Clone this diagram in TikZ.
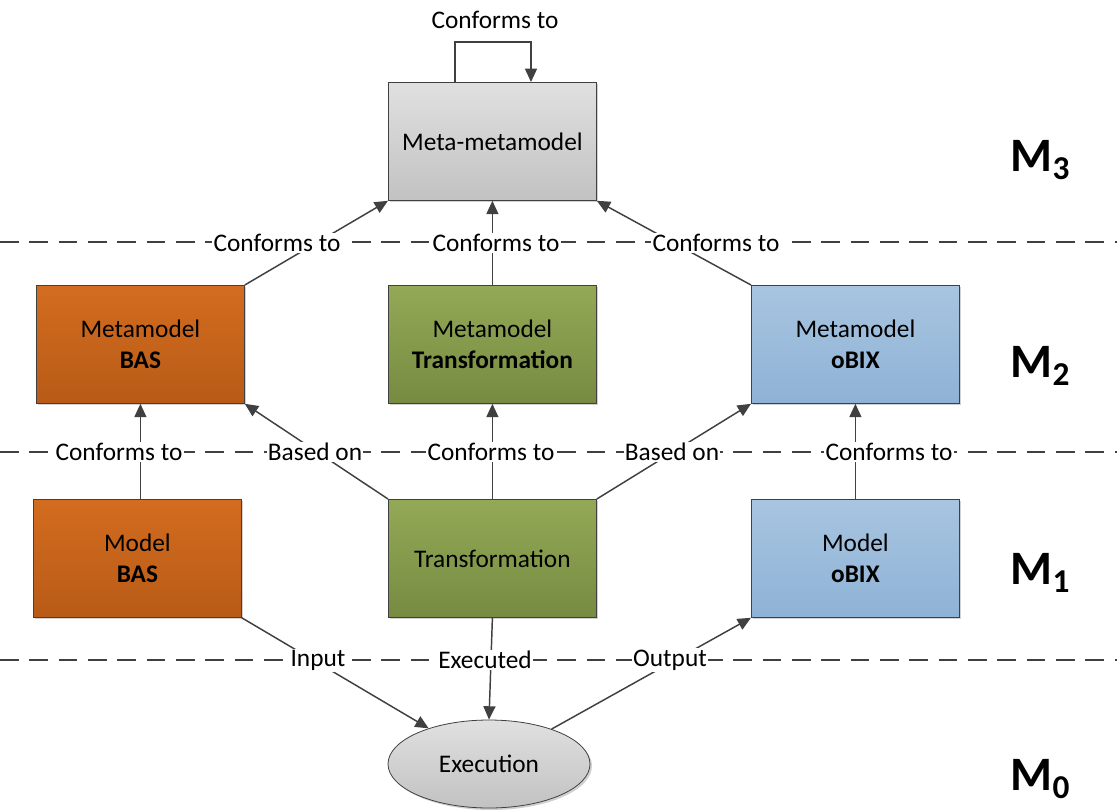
\documentclass[tikz,border=0pt]{standalone}
\usepackage{fontspec}
\setmainfont{Carlito}
\usetikzlibrary{arrows.meta,shadows,shapes.geometric}

\definecolor{edge}{HTML}{404040}
\definecolor{orgtop}{HTML}{D36C1F}
\definecolor{orgbot}{HTML}{B85B17}
\definecolor{grntop}{HTML}{93A957}
\definecolor{grnbot}{HTML}{768B40}
\definecolor{blutop}{HTML}{A8C5E0}
\definecolor{blubot}{HTML}{8EB2D6}
\definecolor{grytop}{HTML}{E0E0E0}
\definecolor{grybot}{HTML}{C2C2C2}

\tikzset{
  box/.style={draw=edge, line width=0.6pt, anchor=north west, inner sep=0pt,
    minimum width=156pt, minimum height=88.5pt, align=center,
    font=\fontsize{19}{23}\selectfont,
    drop shadow={shadow xshift=1.5pt, shadow yshift=-1.5pt, fill=black!18, opacity=1}},
  orange/.style={box, top color=orgtop, bottom color=orgbot},
  green/.style={box, top color=grntop, bottom color=grnbot},
  blue/.style={box, top color=blutop, bottom color=blubot},
  gray/.style={box, top color=grytop, bottom color=grybot},
  conn/.style={draw=edge, line width=1.1pt, -{Triangle[length=10pt,width=9pt]}},
  lbl/.style={fill=white, inner sep=1pt, font=\fontsize{19}{21}\selectfont},
  level/.style={font=\fontsize{36}{38}\selectfont\bfseries},
  sep/.style={draw=edge, line width=1.1pt, dash pattern=on 14pt off 8pt}
}
\newcommand{\lvsub}[1]{{\fontsize{25}{25}\selectfont\raisebox{-6pt}{#1}}}

\begin{document}
\begin{tikzpicture}[x=0.75pt, y=-0.75pt]
\useasboundingbox (0,0) rectangle (1117,810);

% level separators
\coordinate (s3l) at (0,242);   \coordinate (s3r) at (1117,242);
\coordinate (s2l) at (0,452);   \coordinate (s2r) at (1117,452);
\coordinate (s1l) at (0,660);   \coordinate (s1r) at (1117,660);
\draw[sep] (s3l) -- (s3r);
\draw[sep] (s2l) -- (s2r);
\draw[sep] (s1l) -- (s1r);

% boxes
\node[gray]   (meta) at (388,82)  {Meta-metamodel};
\node[orange] (mbas) at (36,285)  {Metamodel\\\textbf{BAS}};
\node[green]  (mtr)  at (388,285) {Metamodel\\\textbf{Transformation}};
\node[blue]   (mobx) at (751,285) {Metamodel\\\textbf{oBIX}};
\node[orange] (bas)  at (33,499)  {Model\\\textbf{BAS}};
\node[green]  (tr)   at (388,499) {Transformation};
\node[blue]   (obx)  at (751,499) {Model\\\textbf{oBIX}};
\node[ellipse, draw=edge, line width=0.6pt, minimum width=151.5pt, minimum height=66pt,
      top color=grytop, bottom color=grybot, font=\fontsize{19}{21}\selectfont,
      drop shadow={shadow xshift=1.5pt, shadow yshift=-1.5pt, fill=black!18, opacity=1}]
      (exec) at (489,764) {Execution};

% self loop on the meta-metamodel
\coordinate (loopa) at (455,42);
\coordinate (loopb) at (531,42);
\draw[conn] (meta.north west -| loopa) -- (loopa) -- (loopb) -- (meta.north west -| loopb);
\node[lbl] (lself) at (495,20) {Conforms to};

% M2 -> M3
\draw[conn] (mbas.north east) -- (meta.south west);
\draw[conn] (mtr.north) -- (meta.south);
\draw[conn] (mobx.north west) -- (meta.south east);

% M1 -> M2
\draw[conn] (bas.north -| mbas.south) -- (mbas.south);
\draw[conn] (tr.north west) -- (mbas.south east);
\draw[conn] (tr.north) -- (mtr.south);
\draw[conn] (tr.north east) -- (mobx.south west);
\draw[conn] (obx.north) -- (mobx.south);

% M1 <-> M0
\draw[conn] (bas.south east) -- (exec);
\draw[conn] (tr.south) -- (exec.north);
\draw[conn] (exec) -- (obx.south west);

% connector labels
\node[lbl] (l1) at (277,243) {Conforms to};
\node[lbl] (l2) at (496,243) {Conforms to};
\node[lbl] (l3) at (716,243) {Conforms to};
\node[lbl] (l4) at (119,452) {Conforms to};
\node[lbl] (l5) at (315,452) {Based on};
\node[lbl] (l6) at (491,452) {Conforms to};
\node[lbl] (l7) at (672,452) {Based on};
\node[lbl] (l8) at (889,452) {Conforms to};
\node[lbl] (l9) at (318,660) {Input};
\node[lbl] (l10) at (485,660) {Executed};
\node[lbl] (l11) at (670,660) {Output};

% meta-levels
\node[level] (m3) at (1040,160) {M\lvsub{3}};
\node[level] (m2) at (1040,366) {M\lvsub{2}};
\node[level] (m1) at (1040,573) {M\lvsub{1}};
\node[level] (m0) at (1040,779) {M\lvsub{0}};
\end{tikzpicture}
\end{document}
